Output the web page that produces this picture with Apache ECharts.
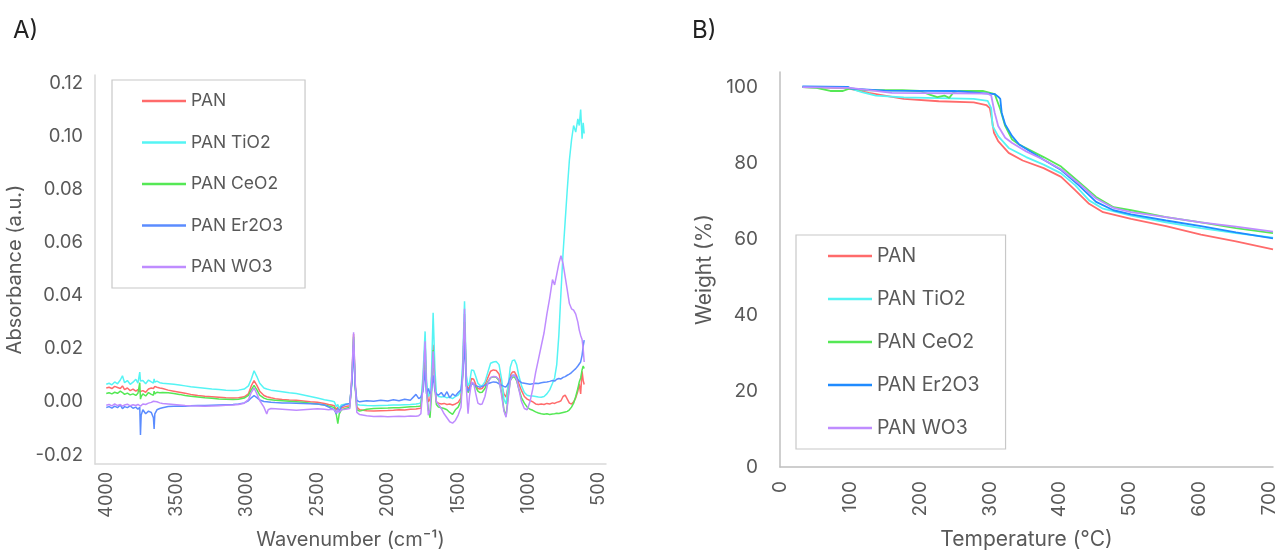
<!DOCTYPE html>
<html>
<head>
<meta charset="utf-8">
<script src="https://cdn.jsdelivr.net/npm/echarts@6/dist/echarts.min.js"></script>
<style>
  html, body { margin: 0; padding: 0; background: #fff; }
  #ftir { position: absolute; left: 0; top: 0; width: 640px; height: 551px; }
  #tga { position: absolute; left: 640px; top: 0; width: 639px; height: 551px; }
</style>
</head>
<body>
<div id="ftir"></div>
<div id="tga"></div>
<script>
// ---- A) FTIR spectra, wavenumber (cm-1) ----
const wavenumbers = [
  4000, 3980, 3960, 3940, 3920, 3900, 3885, 3870, 3850, 3830, 3810, 3790, 3775, 3762, 3757, 3752, 3740, 3720, 3700, 3680, 3665, 3660, 3655, 3640, 3620, 3600,
  3560, 3520, 3480, 3440, 3400, 3350, 3300, 3250, 3200, 3150, 3100, 3060, 3020, 2990,
  2970, 2950, 2940, 2930, 2910, 2880, 2860, 2850, 2830,
  2800, 2750, 2700, 2650, 2600, 2550, 2500, 2450, 2420, 2400, 2380, 2365, 2355, 2345, 2330, 2300, 2270,
  2255, 2243, 2232, 2220,
  2200, 2150, 2100, 2050, 2000, 1960, 1920, 1880, 1840, 1800, 1780, 1765,
  1750, 1735, 1725, 1712, 1700, 1690, 1678, 1665, 1655, 1640,
  1620, 1600, 1580, 1560, 1540, 1520, 1500, 1480, 1468, 1455,
  1442, 1430, 1420, 1405, 1390, 1375, 1360, 1345, 1330, 1310,
  1290, 1270, 1250, 1230, 1210, 1190, 1175, 1160, 1145, 1130,
  1115, 1100, 1085, 1070, 1050, 1030, 1010, 990, 970, 950,
  930, 910, 890, 870, 850, 830, 815, 800, 785, 770,
  755, 740, 725, 710, 695, 680, 665, 650, 640, 630,
  620, 612, 605
]
const absPan = [
  0.0052, 0.0055, 0.0050, 0.0058, 0.0054, 0.0050, 0.0060, 0.0046, 0.0052, 0.0042, 0.0048, 0.0040, 0.0046, 0.0038, 0.0045, 0.0035, 0.0042, 0.0036, 0.0048, 0.0052, 0.0050, 0.0055, 0.0058, 0.0055, 0.0052, 0.0050,
  0.0044, 0.0040, 0.0036, 0.0032, 0.0028, 0.0024, 0.0021, 0.0019, 0.0017, 0.0015, 0.0014, 0.0015, 0.0019, 0.0030,
  0.0060, 0.0080, 0.0076, 0.0062, 0.0040, 0.0024, 0.0019, 0.0017, 0.0015,
  0.0012, 0.0009, 0.0007, 0.0006, 0.0003, 0.0000, -0.0002, -0.0006, -0.0010, -0.0012, -0.0015, -0.0030, -0.0020, -0.0035, -0.0022, -0.0018, -0.0015,
  0.0090, 0.0255, 0.0070, -0.0020,
  -0.0030, -0.0034, -0.0035, -0.0034, -0.0033, -0.0032, -0.0030, -0.0031, -0.0028, -0.0027, -0.0025, -0.0024,
  0.0080, 0.0220, 0.0060, 0.0000, 0.0010, 0.0070, 0.0215, 0.0070, 0.0000, -0.0005,
  -0.0008, -0.0006, -0.0010, -0.0008, -0.0012, -0.0008, -0.0002, 0.0015, 0.0120, 0.0330,
  0.0080, 0.0045, 0.0055, 0.0088, 0.0085, 0.0065, 0.0050, 0.0048, 0.0050, 0.0065,
  0.0090, 0.0115, 0.0120, 0.0118, 0.0105, 0.0060, 0.0030, 0.0018, 0.0060, 0.0100,
  0.0112, 0.0113, 0.0098, 0.0070, 0.0042, 0.0020, 0.0010, 0.0005, 0.0000, -0.0008,
  -0.0010, -0.0008, -0.0010, -0.0006, -0.0008, -0.0004, -0.0006, -0.0002, 0.0000, 0.0004,
  0.0020, 0.0025, 0.0010, -0.0005, -0.0008, 0.0000, 0.0015, 0.0040, 0.0068, 0.0030,
  0.0115, 0.0080, 0.0065
]
const absTiO2 = [
  0.0066, 0.0070, 0.0064, 0.0075, 0.0068, 0.0082, 0.0098, 0.0072, 0.0080, 0.0066, 0.0074, 0.0085, 0.0070, 0.0112, 0.0078, 0.0072, 0.0080, 0.0068, 0.0082, 0.0075, 0.0070, 0.0086, 0.0074, 0.0078, 0.0072, 0.0070,
  0.0068, 0.0066, 0.0063, 0.0060, 0.0057, 0.0054, 0.0051, 0.0048, 0.0046, 0.0044, 0.0043, 0.0044, 0.0048, 0.0060,
  0.0085, 0.0117, 0.0112, 0.0095, 0.0070, 0.0052, 0.0048, 0.0046, 0.0044,
  0.0042, 0.0038, 0.0034, 0.0031, 0.0026, 0.0020, 0.0014, 0.0008, 0.0005, 0.0003, 0.0000, -0.0018, -0.0010, -0.0025, -0.0012, -0.0008, -0.0006,
  0.0080, 0.0235, 0.0060, -0.0010,
  -0.0012, -0.0014, -0.0015, -0.0014, -0.0013, -0.0012, -0.0012, -0.0011, -0.0010, -0.0008, -0.0006, -0.0004,
  0.0100, 0.0265, 0.0080, 0.0020, 0.0030, 0.0100, 0.0335, 0.0120, 0.0030, 0.0020,
  0.0018, 0.0020, 0.0015, 0.0018, 0.0012, 0.0020, 0.0025, 0.0040, 0.0150, 0.0378,
  0.0100, 0.0060, 0.0070, 0.0120, 0.0118, 0.0095, 0.0070, 0.0062, 0.0060, 0.0075,
  0.0110, 0.0145, 0.0150, 0.0152, 0.0140, 0.0080, 0.0010, -0.0008, 0.0060, 0.0130,
  0.0155, 0.0158, 0.0140, 0.0100, 0.0060, 0.0035, 0.0025, 0.0022, 0.0022, 0.0020,
  0.0018, 0.0017, 0.0020, 0.0030, 0.0045, 0.0070, 0.0090, 0.0140, 0.0250, 0.0410,
  0.0560, 0.0680, 0.0800, 0.0910, 0.0985, 0.1040, 0.1015, 0.1065, 0.1040, 0.1100,
  0.0990, 0.1050, 0.1010
]
const absCeO2 = [
  0.0031, 0.0034, 0.0030, 0.0036, 0.0032, 0.0040, 0.0035, 0.0028, 0.0033, 0.0026, 0.0030, 0.0024, 0.0032, 0.0072, 0.0010, 0.0020, 0.0030, 0.0022, 0.0035, 0.0028, 0.0025, 0.0040, 0.0030, 0.0036, 0.0034, 0.0035,
  0.0034, 0.0031, 0.0028, 0.0024, 0.0021, 0.0018, 0.0015, 0.0013, 0.0011, 0.0010, 0.0009, 0.0010, 0.0014, 0.0024,
  0.0045, 0.0062, 0.0058, 0.0045, 0.0025, 0.0014, 0.0010, 0.0009, 0.0008,
  0.0006, 0.0004, 0.0002, 0.0000, -0.0002, -0.0005, -0.0008, -0.0012, -0.0016, -0.0018, -0.0022, -0.0050, -0.0082, -0.0045, -0.0030, -0.0025, -0.0020,
  0.0085, 0.0245, 0.0060, -0.0030,
  -0.0035, -0.0028, -0.0025, -0.0024, -0.0023, -0.0022, -0.0022, -0.0020, -0.0019, -0.0018, -0.0017, -0.0016,
  0.0060, 0.0180, 0.0040, -0.0030, -0.0060, 0.0020, 0.0195, 0.0050, -0.0010, -0.0020,
  -0.0022, -0.0025, -0.0030, -0.0040, -0.0047, -0.0030, -0.0020, 0.0005, 0.0100, 0.0300,
  0.0060, 0.0035, 0.0045, 0.0070, 0.0068, 0.0055, 0.0040, 0.0035, 0.0036, 0.0050,
  0.0075, 0.0090, 0.0094, 0.0092, 0.0080, 0.0030, -0.0030, -0.0054, 0.0020, 0.0080,
  0.0092, 0.0094, 0.0080, 0.0050, 0.0015, -0.0005, -0.0020, -0.0028, -0.0032, -0.0038,
  -0.0042, -0.0045, -0.0047, -0.0045, -0.0048, -0.0046, -0.0045, -0.0043, -0.0044, -0.0042,
  -0.0040, -0.0038, -0.0036, -0.0030, -0.0020, -0.0005, 0.0020, 0.0050, 0.0075, 0.0090,
  0.0120, 0.0135, 0.0125
]
const absEr2O3 = [
  -0.0021, -0.0018, -0.0024, -0.0016, -0.0022, -0.0012, -0.0026, -0.0018, -0.0022, -0.0015, -0.0024, -0.0020, -0.0028, -0.0020, -0.0125, -0.0050, -0.0030, -0.0045, -0.0035, -0.0040, -0.0060, -0.0102, -0.0045, -0.0030, -0.0025, -0.0022,
  -0.0018, -0.0017, -0.0016, -0.0017, -0.0015, -0.0014, -0.0014, -0.0013, -0.0012, -0.0011, -0.0010, -0.0008, -0.0004, 0.0004,
  0.0015, 0.0023, 0.0022, 0.0016, 0.0007, 0.0001, 0.0000, -0.0001, -0.0002,
  -0.0003, -0.0004, -0.0004, -0.0005, -0.0006, -0.0007, -0.0008, -0.0012, -0.0020, -0.0025, -0.0030, -0.0045, -0.0025, -0.0040, -0.0018, -0.0010, -0.0006,
  0.0070, 0.0215, 0.0060, 0.0005,
  0.0000, 0.0004, 0.0002, 0.0006, 0.0003, 0.0008, 0.0004, 0.0010, 0.0006, 0.0028, 0.0012, 0.0018,
  0.0040, 0.0120, 0.0030, 0.0050, 0.0030, 0.0040, 0.0100, 0.0040, 0.0030, 0.0025,
  0.0035, 0.0020, 0.0038, 0.0015, 0.0030, 0.0022, 0.0035, 0.0045, 0.0100, 0.0220,
  0.0060, 0.0040, 0.0050, 0.0068, 0.0066, 0.0060, 0.0058, 0.0055, 0.0058, 0.0062,
  0.0068, 0.0072, 0.0075, 0.0074, 0.0068, 0.0062, 0.0058, 0.0056, 0.0068, 0.0090,
  0.0100, 0.0100, 0.0092, 0.0080, 0.0072, 0.0070, 0.0068, 0.0066, 0.0068, 0.0070,
  0.0069, 0.0072, 0.0074, 0.0075, 0.0077, 0.0080, 0.0078, 0.0085, 0.0088, 0.0086,
  0.0092, 0.0095, 0.0100, 0.0104, 0.0110, 0.0118, 0.0125, 0.0135, 0.0140, 0.0150,
  0.0175, 0.0210, 0.0232
]
const absWO3 = [
  -0.0013, -0.0010, -0.0015, -0.0008, -0.0014, -0.0010, -0.0016, -0.0012, -0.0009, -0.0015, -0.0011, -0.0014, -0.0010, -0.0012, -0.0016, -0.0013, -0.0008, -0.0010, -0.0005, -0.0002, 0.0002, 0.0006, 0.0004, 0.0000, -0.0004, -0.0006,
  -0.0008, -0.0010, -0.0012, -0.0014, -0.0015, -0.0016, -0.0017, -0.0016, -0.0015, -0.0013, -0.0012, -0.0010, -0.0005, 0.0008,
  0.0035, 0.0052, 0.0048, 0.0030, 0.0005, -0.0020, -0.0046, -0.0030, -0.0025,
  -0.0026, -0.0028, -0.0030, -0.0032, -0.0030, -0.0028, -0.0026, -0.0028, -0.0030, -0.0028, -0.0030, -0.0042, -0.0030, -0.0038, -0.0030, -0.0028, -0.0025,
  0.0100, 0.0262, 0.0080, -0.0040,
  -0.0048, -0.0052, -0.0055, -0.0054, -0.0056, -0.0055, -0.0054, -0.0055, -0.0053, -0.0054, -0.0052, -0.0045,
  0.0060, 0.0228, 0.0040, -0.0050, -0.0030, 0.0050, 0.0190, 0.0050, 0.0000, -0.0010,
  -0.0025, -0.0045, -0.0060, -0.0075, -0.0080, -0.0070, -0.0050, -0.0020, 0.0100, 0.0350,
  0.0050, -0.0045, 0.0020, 0.0074, 0.0070, 0.0030, -0.0005, -0.0010, -0.0008, 0.0020,
  0.0070, 0.0092, 0.0095, 0.0094, 0.0085, 0.0020, -0.0035, -0.0058, 0.0010, 0.0080,
  0.0098, 0.0100, 0.0085, 0.0050, 0.0000, -0.0025, -0.0030, 0.0000, 0.0050, 0.0110,
  0.0160, 0.0210, 0.0260, 0.0330, 0.0390, 0.0460, 0.0440, 0.0480, 0.0520, 0.0550,
  0.0520, 0.0470, 0.0420, 0.0370, 0.0350, 0.0345, 0.0330, 0.0300, 0.0270, 0.0250,
  0.0235, 0.0200, 0.0150
]
const wavenumberTicks = [4000, 3500, 3000, 2500, 2000, 1500, 1000, 500]
const absorbanceTicks = [-0.02, 0, 0.02, 0.04, 0.06, 0.08, 0.10, 0.12]

// ---- B) TGA, [temperature (°C), weight (%)] ----
const tgaPan = [[32,100.0],[60,99.9],[97,99.7],[127,98.5],[177,96.9],[227,96.3],[277,96.0],[295,95.3],[300,94.5],[303,91.6],[306,88.0],[312,85.8],[327,82.7],[347,80.7],[377,78.7],[402,76.4],[422,72.9],[442,69.3],[462,67.1],[502,65.3],[552,63.4],[602,61.2],[652,59.4],[705,57.3]]
const tgaTiO2 = [[32,100.0],[97,99.9],[117,98.7],[137,97.8],[177,97.3],[227,97.1],[277,96.9],[297,96.4],[302,94.5],[304,89.8],[312,87.1],[327,84.0],[352,81.6],[377,79.6],[402,77.3],[422,74.2],[442,70.2],[462,68.0],[502,66.2],[552,64.4],[602,62.9],[652,61.6],[705,60.4]]
const tgaCeO2 = [[32,100.0],[52,99.8],[72,99.0],[90,99.0],[100,99.7],[125,99.2],[175,99.2],[200,99.0],[215,98.0],[225,97.4],[235,97.8],[242,97.2],[248,98.6],[255,99.0],[290,99.0],[307,98.2],[315,94.2],[322,89.8],[332,86.2],[342,84.9],[377,81.6],[402,79.1],[427,75.1],[452,71.1],[477,68.4],[502,67.6],[552,65.8],[602,64.4],[652,62.9],[705,61.6]]
const tgaEr2O3 = [[32,100.2],[97,100.1],[102,99.6],[150,99.1],[250,99.0],[307,98.2],[312,97.5],[315,96.9],[317,93.3],[322,90.2],[332,87.1],[342,84.9],[377,80.9],[402,78.2],[427,74.2],[452,69.8],[477,67.6],[502,66.5],[552,64.9],[602,63.4],[652,61.8],[705,60.2]]
const tgaWO3 = [[32,100.0],[100,99.8],[127,99.2],[160,98.5],[250,98.4],[297,98.3],[302,97.8],[307,93.3],[312,89.8],[322,86.7],[332,85.3],[352,83.1],[377,80.9],[402,78.4],[427,74.7],[452,70.7],[477,68.2],[502,67.1],[552,65.8],[602,64.4],[652,63.3],[705,62.0]]
const weightTicks = [0, 20, 40, 60, 80, 100]

const names = ['PAN', 'PAN TiO2', 'PAN CeO2', 'PAN Er2O3', 'PAN WO3']
const textColor = '#595959'
const fontFamily = 'Inter, "Noto Sans", sans-serif'

function zip(xs, ys) {
  let res = []
  for (let i = 0; i < xs.length && i < ys.length; i++) {
    res.push([xs[i], ys[i]])
  }
  return res
}

function lineSeries(datas, colors, width) {
  return datas.map((d, index) => {
    return {
      name: names[index],
      type: 'line',
      showSymbol: false,
      symbol: 'none',
      animation: false,
      lineStyle: { color: colors[index], width: width },
      itemStyle: { color: colors[index] },
      data: d
    }
  })
}

function legend(left, top, padding, gap, fontSize) {
  return {
    data: names,
    orient: 'vertical',
    left: left,
    top: top,
    padding: padding,
    itemGap: gap,
    itemWidth: 44,
    itemHeight: 2.5,
    icon: 'rect',
    borderColor: '#c8c8c8',
    borderWidth: 1.2,
    selectedMode: false,
    textStyle: { color: textColor, fontSize: fontSize, fontFamily: fontFamily }
  }
}

// A) FTIR
let c1 = echarts.init(document.getElementById('ftir'))
const colors1 = ['#ff6b6b', '#55f4f4', '#55e855', '#5b8cff', '#bf8cff']
c1.setOption({
  title: { text: 'A)', left: 8, top: 14, textStyle: { fontSize: 24, fontWeight: 'normal', color: '#222', fontFamily: fontFamily } },
  legend: legend(112, 80, [12, 22, 12, 30], 23.5, 17.5),
  grid: { left: 95, top: 75, width: 511, height: 389, outerBoundsMode: 'none' },
  xAxis: {
    type: 'value', inverse: true, min: 450, max: 4080,
    name: 'Wavenumber (cm⁻¹)', nameLocation: 'middle', nameGap: 66,
    nameTextStyle: { color: textColor, fontSize: 20, fontFamily: fontFamily },
    axisLine: { show: true, onZero: false, lineStyle: { color: '#d9d9d9', width: 1.5 } },
    axisTick: { show: false },
    splitLine: { show: false },
    axisLabel: { customValues: wavenumberTicks, rotate: 90, margin: 8, color: textColor, fontSize: 18, fontFamily: fontFamily,
      formatter: v => String(v) }
  },
  yAxis: {
    type: 'value', min: -0.0234, max: 0.123,
    name: 'Absorbance (a.u.)', nameLocation: 'middle', nameGap: 59,
    nameTextStyle: { color: textColor, fontSize: 20, fontFamily: fontFamily },
    axisLine: { show: true, lineStyle: { color: '#d9d9d9', width: 1.5 } },
    axisTick: { show: false },
    splitLine: { show: false },
    axisLabel: { customValues: absorbanceTicks, margin: 12, color: textColor, fontSize: 18.5, fontFamily: fontFamily,
      formatter: v => v.toFixed(2) }
  },
  series: lineSeries([
    zip(wavenumbers, absPan), zip(wavenumbers, absTiO2), zip(wavenumbers, absCeO2),
    zip(wavenumbers, absEr2O3), zip(wavenumbers, absWO3)
  ], colors1, 1.5)
})

// B) TGA
let c2 = echarts.init(document.getElementById('tga'))
const colors2 = ['#ff6b6b', '#55f4f4', '#55e855', '#1f8bff', '#bf8cff']
c2.setOption({
  title: { text: 'B)', left: 47, top: 14, textStyle: { fontSize: 24, fontWeight: 'normal', color: '#222', fontFamily: fontFamily } },
  legend: legend(156, 235, [11, 26, 11, 32], 23, 19.5),
  grid: { left: 140, top: 72, width: 493, height: 395, outerBoundsMode: 'none' },
  xAxis: {
    type: 'value', min: 0, max: 705, interval: 100,
    name: 'Temperature (°C)', nameLocation: 'middle', nameGap: 62,
    nameTextStyle: { color: textColor, fontSize: 21, fontFamily: fontFamily },
    axisLine: { show: true, onZero: false, lineStyle: { color: '#bfbfbf', width: 1.5 } },
    axisTick: { show: false },
    splitLine: { show: false },
    axisLabel: { rotate: 90, margin: 14, color: textColor, fontSize: 19, fontFamily: fontFamily, showMaxLabel: false }
  },
  yAxis: {
    type: 'value', min: 0, max: 104,
    name: 'Weight (%)', nameLocation: 'middle', nameGap: 62,
    nameTextStyle: { color: textColor, fontSize: 21, fontFamily: fontFamily },
    axisLine: { show: true, lineStyle: { color: '#bfbfbf', width: 1.5 } },
    axisTick: { show: false },
    splitLine: { show: false },
    axisLabel: { customValues: weightTicks, margin: 22, color: textColor, fontSize: 19, fontFamily: fontFamily }
  },
  series: lineSeries([tgaPan, tgaTiO2, tgaCeO2, tgaEr2O3, tgaWO3], colors2, 1.8)
})
</script>
</body>
</html>
